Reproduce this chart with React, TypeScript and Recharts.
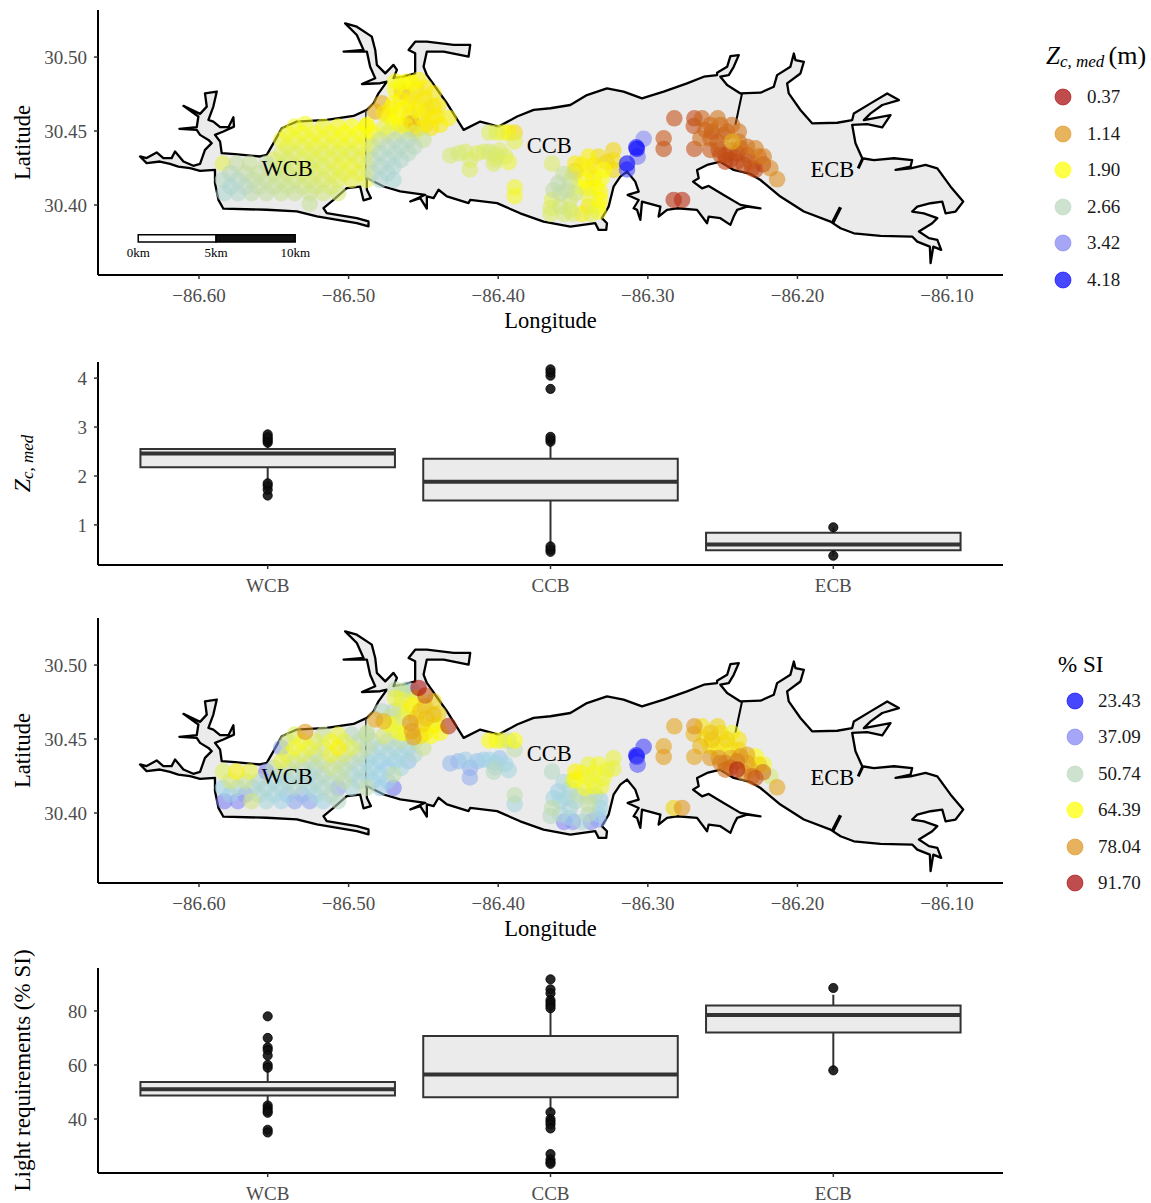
import React from "react";
import { ScatterChart, Scatter, XAxis, YAxis, ReferenceArea, ReferenceLine } from "recharts";

// Estuary outline (longitude, latitude), clockwise from the western shore
const shoreline: number[][] = [
  [-86.5893,30.4238],[-86.5993,30.4231],[-86.6060,30.4249],[-86.6138,30.4260],[-86.6194,30.4278],[-86.6261,30.4294],[-86.6350,30.4283],[-86.6394,30.4328],[-86.6350,30.4317],[-86.6283,30.4355],[-86.6238,30.4317],[-86.6183,30.4317],[-86.6160,30.4362],[-86.6104,30.4294],[-86.6038,30.4265],[-86.5993,30.4278],[-86.5960,30.4373],[-86.5915,30.4418],[-86.5937,30.4440],[-86.5993,30.4474],[-86.6015,30.4508],[-86.6131,30.4515],[-86.6015,30.4526],[-86.6004,30.4598],[-86.6104,30.4670],[-86.5993,30.4616],[-86.5948,30.4665],[-86.5960,30.4755],[-86.5881,30.4767],[-86.5904,30.4665],[-86.5937,30.4575],[-86.5904,30.4564],[-86.5859,30.4526],[-86.5803,30.4526],[-86.5770,30.4593],[-86.5766,30.4530],[-86.5837,30.4497],[-86.5893,30.4474],[-86.5859,30.4429],[-86.5848,30.4350],[-86.5759,30.4344],[-86.5592,30.4328],[-86.5547,30.4339],[-86.5502,30.4418],[-86.5447,30.4519],[-86.5346,30.4564],[-86.5146,30.4575],[-86.4967,30.4602],[-86.4878,30.4643],[-86.4833,30.4688],[-86.4800,30.4755],[-86.4744,30.4834],[-86.4789,30.4823],[-86.4911,30.4818],[-86.4822,30.4857],[-86.4856,30.4935],[-86.4878,30.5037],[-86.5034,30.5037],[-86.4900,30.5048],[-86.4945,30.5149],[-86.5023,30.5228],[-86.4945,30.5205],[-86.4845,30.5138],[-86.4822,30.5048],[-86.4811,30.4947],[-86.4755,30.4890],[-86.4700,30.4947],[-86.4677,30.4913],[-86.4700,30.4857],[-86.4633,30.4868],[-86.4555,30.4890],[-86.4555,30.5025],[-86.4599,30.5048],[-86.4555,30.5104],[-86.4477,30.5104],[-86.4298,30.5082],[-86.4187,30.5082],[-86.4198,30.5003],[-86.4365,30.5037],[-86.4477,30.5037],[-86.4499,30.4935],[-86.4477,30.4879],[-86.4343,30.4688],[-86.4231,30.4508],[-86.4120,30.4564],[-86.3997,30.4530],[-86.3874,30.4598],[-86.3763,30.4643],[-86.3651,30.4654],
  [-86.3518,30.4676],[-86.3407,30.4743],[-86.3273,30.4788],[-86.3162,30.4766],[-86.3039,30.4721],[-86.2894,30.4766],[-86.2738,30.4822],[-86.2626,30.4867],[-86.2537,30.4878],[-86.2537,30.4894],[-86.2470,30.4934],[-86.2448,30.5006],[-86.2392,30.5013],[-86.2426,30.4934],[-86.2459,30.4878],[-86.2515,30.4867],[-86.2470,30.4811],[-86.2381,30.4754],[-86.2247,30.4759],[-86.2158,30.4799],[-86.2136,30.4878],[-86.2047,30.4934],[-86.2024,30.5024],[-86.2013,30.4979],[-86.1957,30.4968],[-86.1980,30.4889],[-86.2069,30.4822],[-86.2058,30.4754],[-86.1980,30.4642],[-86.1902,30.4552],[-86.1734,30.4556],[-86.1634,30.4574],[-86.1623,30.4619],[-86.1511,30.4687],[-86.1400,30.4754],[-86.1322,30.4709],[-86.1433,30.4676],[-86.1511,30.4619],[-86.1556,30.4574],[-86.1378,30.4608],[-86.1433,30.4525],[-86.1534,30.4547],[-86.1634,30.4541],[-86.1612,30.4417],[-86.1567,30.4316],[-86.1489,30.4304],[-86.1355,30.4316],[-86.1233,30.4304],[-86.1244,30.4259],[-86.1344,30.4237],[-86.1244,30.4248],[-86.1144,30.4271],[-86.1065,30.4248],[-86.0976,30.4124],[-86.0892,30.4023],[-86.0943,30.3956],[-86.1010,30.3944],[-86.1032,30.4023],[-86.1110,30.4012],[-86.1199,30.3989],[-86.1233,30.3956],[-86.1155,30.3944],[-86.1065,30.3911],[-86.1099,30.3877],[-86.1188,30.3821],[-86.1121,30.3776],[-86.1065,30.3764],[-86.1039,30.3697],[-86.1092,30.3719],[-86.1110,30.3607],[-86.1115,30.3719],[-86.1199,30.3753],[-86.1233,30.3787],[-86.1445,30.3791],[-86.1623,30.3809],[-86.1712,30.3843],[-86.1779,30.3888],[-86.1957,30.3956],[-86.2114,30.4057],[-86.2247,30.4169],[-86.2314,30.4210],[-86.2426,30.4237],[-86.2515,30.4293],[-86.2604,30.4271],[-86.2671,30.4237],[-86.2660,30.4181],[-86.2698,30.4158],[-86.2638,30.4113],[-86.2593,30.4129],[-86.2493,30.4068],[-86.2381,30.4001],[-86.2247,30.3978],[-86.2337,30.3989],[-86.2403,30.3967],[-86.2426,30.3922],[-86.2448,30.3866],[-86.2515,30.3911],[-86.2593,30.3922],[-86.2604,30.3877],[-86.2671,30.3967],[-86.2805,30.3978],[-86.2872,30.3967],[-86.2928,30.3922],[-86.2916,30.3989],[-86.3039,30.4023],[-86.3050,30.3899],[-86.3072,30.3967],[-86.3095,30.3978],[-86.3061,30.4034],[-86.3135,30.4068],[-86.3061,30.4091],[-86.3084,30.4158],[-86.3139,30.4226],[-86.3184,30.4192],[-86.3229,30.4124],[-86.3262,30.3989],[-86.3307,30.3911],[-86.3273,30.3877],[-86.3278,30.3832],[-86.3329,30.3832],[-86.3351,30.3877],[-86.3518,30.3854],[-86.3697,30.3888],[-86.3853,30.3944],
  [-86.4008,30.4013],[-86.4187,30.4035],[-86.4198,30.4013],[-86.4343,30.4058],[-86.4399,30.4103],[-86.4432,30.4047],[-86.4477,30.4058],[-86.4477,30.3975],[-86.4521,30.4047],[-86.4588,30.4024],[-86.4488,30.4069],[-86.4655,30.4092],[-86.4766,30.4125],[-86.4878,30.4182],[-86.4878,30.4103],[-86.4851,30.4047],[-86.4900,30.4031],[-86.4923,30.4125],[-86.5012,30.4114],[-86.5101,30.4035],[-86.5168,30.3979],[-86.5146,30.3945],[-86.4945,30.3912],[-86.4867,30.3889],[-86.4867,30.3855],[-86.4945,30.3878],[-86.5212,30.3923],[-86.5346,30.3957],[-86.5547,30.3968],[-86.5837,30.3975],[-86.5870,30.4035],[-86.5893,30.4148],
];

const dividers: { pts: number[][]; w: number; c: string }[] = [
  { pts: [[-86.4885,30.4640],[-86.4885,30.4170]], w: 1.5, c: "#333" },
  { pts: [[-86.2370,30.4755],[-86.2415,30.4541]], w: 2, c: "#000" },
  { pts: [[-86.1712,30.3985],[-86.1764,30.3881]], w: 3.5, c: "#000" },
  { pts: [[-86.1563,30.4316],[-86.1594,30.4248]], w: 3, c: "#000" },
];

// Sampling stations: [longitude, latitude, Zc,med (m), % SI]; null = not seen on that map
type St = [number, number, number | null, number | null];
const westStations: St[] = [
  [-86.583,30.408,2.8,36],[-86.574,30.408,2.75,37],[-86.565,30.408,2.6,55],[-86.555,30.408,2.55,47],[-86.545,30.408,2.5,45],[-86.536,30.408,2.5,40],[-86.526,30.408,2.45,40],[-86.517,30.408,2.4,45],[-86.507,30.408,2.35,50],
  [-86.526,30.401,2.5,null],
  [-86.584,30.417,2.7,45],[-86.574,30.417,2.7,48],[-86.564,30.417,2.55,48],[-86.555,30.417,2.5,47],[-86.545,30.417,2.45,47],[-86.536,30.417,2.4,49],[-86.526,30.417,2.35,47],[-86.517,30.417,2.3,49],[-86.507,30.417,2.2,40],[-86.498,30.417,2.15,47],[-86.488,30.417,2.15,52],[-86.479,30.417,2.8,44],[-86.470,30.417,2.85,36],
  [-86.584,30.428,2.2,58],[-86.575,30.428,2.55,66],[-86.566,30.428,2.5,60],[-86.555,30.428,2.55,36],[-86.545,30.426,2.35,48],[-86.536,30.426,2.35,48],[-86.526,30.426,2.3,47],[-86.517,30.426,2.25,50],[-86.507,30.426,2.15,52],[-86.498,30.426,2.1,46],[-86.488,30.426,2.2,46],[-86.479,30.426,2.75,45],[-86.470,30.426,2.8,52],
  [-86.545,30.435,2.25,60],[-86.536,30.435,2.25,55],[-86.526,30.435,2.2,52],[-86.517,30.435,2.2,53],[-86.507,30.435,2.2,53],[-86.498,30.435,2.2,50],[-86.488,30.435,2.15,46],[-86.479,30.435,2.7,44],[-86.469,30.435,2.75,44],[-86.460,30.435,2.7,43],
  [-86.545,30.444,2.05,40],[-86.536,30.444,2.05,62],[-86.526,30.444,2.05,60],[-86.517,30.444,2.05,56],[-86.507,30.444,2.0,66],[-86.498,30.444,2.0,58],[-86.488,30.444,2.0,52],[-86.479,30.444,2.5,47],[-86.469,30.444,2.65,47],[-86.460,30.444,2.7,45],[-86.450,30.444,2.5,54],
  [-86.536,30.453,2.0,58],[-86.529,30.4548,2.0,78],[-86.517,30.453,2.0,54],[-86.507,30.453,1.95,60],[-86.498,30.453,1.9,50],[-86.488,30.453,1.8,48],
];
const westInfill: St[] = [
  [-86.579,30.4125,2.8,44],[-86.569,30.4125,2.65,40],[-86.560,30.4125,2.55,48],[-86.550,30.4125,2.5,46],[-86.541,30.4125,2.45,43],[-86.531,30.4125,2.4,42],[-86.522,30.4125,2.35,46],[-86.512,30.4125,2.3,50],
  [-86.579,30.4215,2.65,56],[-86.569,30.4215,2.55,54],[-86.560,30.4215,2.5,48],[-86.550,30.4215,2.4,47],[-86.541,30.4215,2.35,47],[-86.531,30.4215,2.3,48],[-86.522,30.4215,2.25,48],[-86.512,30.4215,2.2,50],[-86.503,30.4215,2.15,52],[-86.493,30.4215,2.15,48],[-86.484,30.4215,2.65,44],[-86.474,30.4215,2.8,44],
  [-86.550,30.4305,2.3,52],[-86.541,30.4305,2.3,52],[-86.531,30.4305,2.25,50],[-86.522,30.4305,2.2,50],[-86.512,30.4305,2.15,54],[-86.503,30.4305,2.1,52],[-86.493,30.4305,2.15,48],[-86.484,30.4305,2.6,45],[-86.474,30.4305,2.75,44],[-86.465,30.4305,2.75,46],
  [-86.541,30.4395,2.15,58],[-86.531,30.4395,2.15,58],[-86.522,30.4395,2.1,54],[-86.512,30.4395,2.1,60],[-86.503,30.4395,2.05,56],[-86.493,30.4395,2.05,52],[-86.484,30.4395,2.4,46],[-86.474,30.4395,2.65,46],[-86.465,30.4395,2.7,46],[-86.456,30.4395,2.65,48],
  [-86.541,30.4485,2.0,55],[-86.531,30.4485,2.0,62],[-86.522,30.4485,2.0,58],[-86.512,30.4485,2.0,62],[-86.503,30.4485,1.95,58],[-86.493,30.4485,1.9,52],[-86.484,30.4485,1.9,50],[-86.474,30.4485,2.2,50],[-86.465,30.4485,2.2,52],[-86.456,30.4485,2.2,52],
];
const northeastStations: St[] = [
  [-86.4689,30.4834,1.95,52],[-86.4532,30.4845,1.8,91.7],[-86.4610,30.4834,1.8,46],[-86.4488,30.4794,1.75,84],[-86.4689,30.4778,1.85,60],[-86.4644,30.4767,1.2,60],[-86.4544,30.4778,1.7,64],[-86.4432,30.4755,1.75,70],
  [-86.4778,30.4688,1.3,50],[-86.4700,30.4688,1.85,50],[-86.4599,30.4688,1.7,62],[-86.4521,30.4688,1.75,72],[-86.4432,30.4665,1.65,73],[-86.4823,30.4632,1.3,76],[-86.4766,30.4620,1.7,74],[-86.4677,30.4609,1.85,58],[-86.4588,30.4609,1.6,78],[-86.4510,30.4598,1.75,70],[-86.4410,30.4598,1.75,62],[-86.4332,30.4587,1.8,88],
  [-86.4577,30.4553,0.9,76],[-86.4655,30.4542,1.7,62],[-86.4488,30.4542,1.7,66],[-86.4388,30.4542,1.75,65],[-86.4566,30.4512,1.2,77],[-86.4766,30.4519,2.1,56],[-86.4878,30.4542,1.9,54],
  [-86.4645,30.4825,1.9,54],[-86.4575,30.4825,1.85,47],[-86.4650,30.4715,1.8,56],[-86.4580,30.4730,1.75,66],[-86.4490,30.4720,1.7,72],[-86.4480,30.4640,1.7,72],[-86.4550,30.4640,1.8,70],[-86.4630,30.4650,1.85,56],[-86.4720,30.4650,1.75,54],[-86.4400,30.4670,1.75,70],[-86.4440,30.4590,1.75,66],[-86.4450,30.4520,1.7,64],[-86.4520,30.4520,1.75,68],[-86.4620,30.4540,1.8,62],[-86.4700,30.4560,1.9,58],[-86.4730,30.4600,1.8,62],
];
const centralStations: St[] = [
  [-86.432,30.4335,2.35,42],[-86.422,30.436,2.3,44],[-86.419,30.424,2.3,41],[-86.414,30.435,2.25,43],[-86.406,30.436,2.35,45],[-86.403,30.428,2.3,50],[-86.399,30.437,2.3,43],[-86.393,30.429,2.1,46],[-86.389,30.412,2.05,52],[-86.389,30.406,2.0,46],[-86.406,30.449,2.25,64],[-86.401,30.449,2.2,62],[-86.393,30.449,1.75,50],[-86.389,30.449,1.65,64],[-86.389,30.443,2.2,52],
  [-86.4265,30.435,2.35,42],[-86.4097,30.436,2.3,44],[-86.402,30.434,2.3,45],[-86.3953,30.433,2.25,45],[-86.4187,30.4305,2.3,41],[-86.402,30.431,2.3,48],[-86.397,30.449,2.0,60],
  [-86.364,30.428,2.3,50],[-86.3485,30.428,1.75,66],[-86.3485,30.4226,1.3,64],[-86.3396,30.4327,1.8,60],[-86.333,30.4327,1.65,62],[-86.3273,30.429,1.55,60],[-86.323,30.437,1.6,60],[-86.323,30.430,1.65,60],[-86.3396,30.4237,1.8,60],[-86.3295,30.4237,1.85,61],[-86.342,30.417,1.85,62],[-86.331,30.418,1.9,61],[-86.335,30.412,1.85,50],
  [-86.3563,30.421,2.5,47],[-86.360,30.4147,2.6,44],[-86.352,30.416,2.5,47],[-86.3585,30.408,2.55,45],[-86.3485,30.408,2.4,48],[-86.3396,30.4057,2.1,53],[-86.3318,30.409,1.85,45],[-86.364,30.4034,2.2,52],[-86.344,30.394,1.8,47],[-86.333,30.3956,2.0,40],[-86.365,30.394,2.3,null],[-86.356,30.394,2.35,37],[-86.350,30.394,2.3,38],[-86.338,30.394,2.2,38],
  [-86.344,30.427,1.75,62],[-86.336,30.427,1.7,62],[-86.323,30.4237,1.6,null],[-86.336,30.418,1.7,61],[-86.3463,30.4125,1.9,52],[-86.3396,30.4113,1.8,52],[-86.3318,30.4034,1.85,46],[-86.3396,30.399,1.7,50],[-86.333,30.399,1.85,44],[-86.352,30.4034,2.35,47],[-86.3585,30.399,2.4,47],[-86.365,30.398,2.3,50],[-86.352,30.3967,2.3,45],[-86.363,30.410,2.55,46],[-86.354,30.410,2.55,46],[-86.350,30.4215,2.2,58],
  [-86.3139,30.428,4.18,null],[-86.3139,30.424,3.78,null],[-86.3073,30.438,4.15,23.43],[-86.3077,30.439,4.05,23.6],[-86.3068,30.4327,3.5,32],[-86.3028,30.4447,3.4,30],
];
const eastStations: St[] = [
  [-86.2823,30.4586,0.75,76],[-86.2894,30.4451,0.8,76],[-86.2894,30.4379,0.75,77],[-86.2689,30.4586,0.7,78],[-86.2638,30.4586,0.85,68],[-86.2693,30.4534,0.75,74],[-86.2533,30.4586,0.95,70],[-86.2582,30.4541,0.9,72],[-86.2571,30.4496,0.75,72],[-86.2437,30.4541,0.9,62],[-86.2392,30.4496,0.95,68],[-86.2470,30.4496,0.85,70],[-86.2649,30.4451,0.9,74],[-86.2582,30.4451,0.85,66],[-86.2437,30.4428,1.35,64],[-86.2689,30.4379,0.75,76],[-86.2582,30.4372,0.8,78],[-86.2526,30.4372,0.75,78],[-86.2482,30.4338,0.7,80],[-86.2403,30.4349,0.7,80],[-86.2403,30.4293,0.7,90],[-86.2337,30.4338,0.75,76],[-86.2281,30.4383,1.0,64],[-86.2225,30.4327,1.0,62],[-86.2230,30.4275,0.5,82],[-86.2281,30.4237,0.7,84],[-86.2181,30.4248,1.05,56],[-86.2136,30.4174,1.1,76],[-86.2827,30.4034,0.55,70],[-86.2771,30.4034,0.55,78],
  [-86.2515,30.4541,0.9,68],[-86.2493,30.4473,0.85,68],[-86.2537,30.4428,0.85,68],[-86.2615,30.4507,0.85,66],[-86.2392,30.4428,0.95,70],[-86.2448,30.4372,0.75,76],[-86.2482,30.4293,0.65,82],[-86.2448,30.4305,0.65,82],[-86.2359,30.4271,0.7,78],[-86.2314,30.4293,0.8,74],[-86.2337,30.4394,0.9,76],[-86.2258,30.4327,0.9,70],[-86.2381,30.4383,0.8,78],[-86.2303,30.4248,0.7,82],[-86.2515,30.4338,0.75,80],
];
const allStations: St[] = [...westStations, ...westInfill, ...northeastStations, ...centralStations, ...eastStations];

const basinNames = ["WCB", "CCB", "ECB"];
const basinLabels = [
  { lon: -86.5411, lat: 30.425, text: "WCB" },
  { lon: -86.3659, lat: 30.4399, text: "CCB" },
  { lon: -86.1766, lat: 30.4243, text: "ECB" },
];
const scaleLabels = [
  { lon: -86.6406, lat: 30.3682, text: "0km" },
  { lon: -86.5886, lat: 30.3682, text: "5km" },
  { lon: -86.5357, lat: 30.3682, text: "10km" },
];

const zcLegend = ["0.37", "1.14", "1.90", "2.66", "3.42", "4.18"];
const siLegend = ["23.43", "37.09", "50.74", "64.39", "78.04", "91.70"];

const lonTicks = [-86.6, -86.5, -86.4, -86.3, -86.2, -86.1];
const latTicks = [30.4, 30.45, 30.5];

// Box plots, in WCB / CCB / ECB order
const zcQ1 = [2.18, 1.5, 0.48];
const zcMedian = [2.46, 1.88, 0.6];
const zcQ3 = [2.55, 2.35, 0.84];
const zcLow = [1.9, 0.6, 0.37];
const zcHigh = [2.72, 2.72, 0.95];
const zcOutliers = [
  [2.68, 2.72, 2.76, 2.8, 2.85, 1.6, 1.72, 1.8, 1.85],
  [2.7, 2.75, 2.8, 3.78, 4.05, 4.12, 4.18, 0.45, 0.5, 0.56],
  [0.95, 0.37],
];
const siQ1 = [48.7, 48, 72];
const siMedian = [51, 56.5, 78.5];
const siQ3 = [53.7, 70.7, 82];
const siLow = [45, 43, 58];
const siHigh = [59, 81, 86];
const siOutliers = [
  [78, 70, 66.5, 65.5, 63.5, 60, 59, 45, 44, 43, 42.3, 36, 35],
  [91.7, 88, 86.5, 84, 83, 82, 81, 42.5, 40, 39, 38, 36.5, 27, 25, 24, 23.4],
  [88.5, 58],
];

const rampStops: [number, number, number, number][] = [
  [0, 168, 8, 8],
  [0.2, 222, 148, 30],
  [0.4, 255, 255, 0],
  [0.6, 186, 216, 190],
  [0.69, 160, 212, 232],
  [0.8, 132, 132, 244],
  [1, 0, 0, 255],
];
function ramp(t: number) {
  const u = Math.max(0, Math.min(1, t));
  for (let i = 1; i < rampStops.length; i++) {
    const a = rampStops[i - 1], b = rampStops[i];
    if (u <= b[0]) {
      const f = (u - a[0]) / (b[0] - a[0]);
      return `rgb(${Math.round(a[1] + (b[1] - a[1]) * f)},${Math.round(a[2] + (b[2] - a[2]) * f)},${Math.round(a[3] + (b[3] - a[3]) * f)})`;
    }
  }
  return "rgb(0,0,255)";
}
const zcT = (v: number) => (v - 0.37) / 3.81;
const siT = (v: number) => (91.7 - v) / 68.27;

const SERIF = "'Liberation Serif', 'Times New Roman', serif";
const tickStyle = { fontSize: 19, fill: "#4d4d4d", fontFamily: SERIF };
const axisLine = { stroke: "#000", strokeWidth: 2 };
const tickLine = { stroke: "#333", strokeWidth: 1.5 };
const TITLE = 22.5;

const xTitle = { value: "Longitude", position: "insideBottom" as const, offset: 2, fontSize: TITLE, fill: "#000", fontFamily: SERIF };

function yTitle(content: React.ReactNode, size: number = TITLE) {
  return (p: any) => {
    const vb = p.viewBox || {};
    const cy = (vb.y ?? 0) + (vb.height ?? 0) / 2;
    return (
      <text x={22} y={cy} transform={`rotate(-90 22 ${cy})`} textAnchor="middle" dominantBaseline="central" fontSize={size} fill="#000" fontFamily={SERIF}>
        {content}
      </text>
    );
  };
}

const hiddenPoint = () => <g />;
const outlinePath = (p: any) => {
  const d = p.points.map((q: any, i: number) => `${i ? "L" : "M"}${q.x},${q.y}`).join("") + "Z";
  return <path d={d} fill="#ebebeb" stroke="#000" strokeWidth={2.3} strokeLinejoin="round" />;
};
const segPath = (w: number, c: string) => (p: any) => {
  const d = p.points.map((q: any, i: number) => `${i ? "L" : "M"}${q.x},${q.y}`).join("");
  return <path d={d} fill="none" stroke={c} strokeWidth={w} />;
};
const dot = (p: any) => <circle cx={p.cx} cy={p.cy} r={8.3} fill={p.payload.color} fillOpacity={0.58} />;
const textMark = (size: number) => (p: any) => (
  <text x={p.cx} y={p.cy} textAnchor="middle" dominantBaseline="central" fontSize={size} fill="#000" fontFamily={SERIF}>
    {p.payload.text}
  </text>
);

function MapPanel({ top, marks, scaleBar }: { top: number; marks: any[]; scaleBar: boolean }) {
  return (
    <div style={{ position: "absolute", left: 0, top }}>
      <ScatterChart width={1151} height={340} margin={{ top: 10, right: 148, bottom: 10, left: 0 }}>
        <XAxis type="number" dataKey="lon" domain={[-86.6675, -86.0626]} ticks={lonTicks} allowDataOverflow height={55} interval={0}
          tickFormatter={(v: number) => "\u2212" + Math.abs(v).toFixed(2)} tick={tickStyle} axisLine={axisLine} tickLine={tickLine} tickSize={4} tickMargin={10} label={xTitle} />
        <YAxis type="number" dataKey="lat" domain={[30.3527, 30.5318]} ticks={latTicks} allowDataOverflow width={98} interval={0}
          tickFormatter={(v: number) => v.toFixed(2)} tick={tickStyle} axisLine={axisLine} tickLine={tickLine} tickSize={4} tickMargin={7} label={yTitle("Latitude")} />
        <Scatter data={shoreline.map(([lon, lat]) => ({ lon, lat }))} shape={hiddenPoint} line={outlinePath} isAnimationActive={false} />
        {dividers.map((s, i) => (
          <Scatter key={i} data={s.pts.map(([lon, lat]) => ({ lon, lat }))} shape={hiddenPoint} line={segPath(s.w, s.c)} isAnimationActive={false} />
        ))}
        <Scatter data={marks} shape={dot} isAnimationActive={false} />
        <Scatter data={basinLabels} shape={textMark(22.5)} isAnimationActive={false} />
        {scaleBar && <Scatter data={scaleLabels} shape={textMark(13)} isAnimationActive={false} />}
        {scaleBar && <ReferenceArea x1={-86.6406} x2={-86.5886} y1={30.375} y2={30.3799} fill="#fff" fillOpacity={1} stroke="#000" strokeWidth={1.5} />}
        {scaleBar && <ReferenceArea x1={-86.5886} x2={-86.5357} y1={30.375} y2={30.3799} fill="#111" fillOpacity={1} stroke="#000" strokeWidth={1.5} />}
      </ScatterChart>
    </div>
  );
}

const outlierDot = (p: any) => <circle cx={p.cx} cy={p.cy} r={4.6} fill="#111" fillOpacity={0.9} stroke="#000" strokeWidth={0.8} />;

function BoxPanel(props: { top: number; height: number; plotTop: number; plotBottom: number; domain: [number, number]; ticks: number[]; q1: number[]; med: number[]; q3: number[]; low: number[]; high: number[]; out: number[][]; title: any }) {
  const { top, height, plotTop, plotBottom, domain, ticks, q1, med, q3, low, high, out, title } = props;
  const pts = out.flatMap((vals, i) => vals.map((y) => ({ x: i + 1, y })));
  return (
    <div style={{ position: "absolute", left: 0, top }}>
      <ScatterChart width={1151} height={height} margin={{ top: plotTop, right: 148, bottom: plotBottom, left: 0 }}>
        <XAxis type="number" dataKey="x" domain={[0.4, 3.6]} ticks={[1, 2, 3]} allowDataOverflow height={32} interval={0}
          tickFormatter={(v: number) => basinNames[v - 1]} tick={tickStyle} axisLine={axisLine} tickLine={tickLine} tickSize={4} tickMargin={10} />
        <YAxis type="number" dataKey="y" domain={domain} ticks={ticks} allowDataOverflow width={98} interval={0}
          tick={tickStyle} axisLine={axisLine} tickLine={tickLine} tickSize={4} tickMargin={7} label={title} />
        {basinNames.map((n, i) => (
          <ReferenceLine key={n + "wu"} segment={[{ x: i + 1, y: q3[i] }, { x: i + 1, y: high[i] }]} stroke="#333" strokeWidth={2} />
        ))}
        {basinNames.map((n, i) => (
          <ReferenceLine key={n + "wl"} segment={[{ x: i + 1, y: low[i] }, { x: i + 1, y: q1[i] }]} stroke="#333" strokeWidth={2} />
        ))}
        {basinNames.map((n, i) => (
          <ReferenceArea key={n + "b"} x1={i + 0.55} x2={i + 1.45} y1={q1[i]} y2={q3[i]} fill="#ebebeb" fillOpacity={1} stroke="#333" strokeWidth={2} />
        ))}
        {basinNames.map((n, i) => (
          <ReferenceLine key={n + "m"} segment={[{ x: i + 0.55, y: med[i] }, { x: i + 1.45, y: med[i] }]} stroke="#333" strokeWidth={4} />
        ))}
        <Scatter data={pts} shape={outlierDot} isAnimationActive={false} />
      </ScatterChart>
    </div>
  );
}

function LegendBlock({ circleX, textX, labels, toT, title, titleX, titleY, ys }: any) {
  return (
    <div style={{ position: "absolute", left: 0, top: 0, fontFamily: SERIF }}>
      <div style={{ position: "absolute", left: titleX, top: titleY, whiteSpace: "nowrap", color: "#000", fontSize: 23, lineHeight: "26px" }}>{title}</div>
      {labels.map((l: string, i: number) => (
        <React.Fragment key={l}>
          <svg width={20} height={20} style={{ position: "absolute", left: circleX - 10, top: ys[i] - 10 }}>
            <circle cx={10} cy={10} r={8} fill={ramp(toT(parseFloat(l)))} fillOpacity={0.72} stroke={ramp(toT(parseFloat(l)))} strokeOpacity={0.6} />
          </svg>
          <div style={{ position: "absolute", left: textX, top: ys[i] - 11, fontSize: 19, lineHeight: "22px", color: "#1a1a1a" }}>{l}</div>
        </React.Fragment>
      ))}
    </div>
  );
}

const zcMarks = allStations.filter((s) => s[2] !== null).map((s) => ({ lon: s[0], lat: s[1], v: s[2] as number, color: ramp(zcT(s[2] as number)) })).sort((a, b) => a.v - b.v);
const siMarks = allStations.filter((s) => s[3] !== null).map((s) => ({ lon: s[0], lat: s[1], v: s[3] as number, color: ramp(siT(s[3] as number)) })).sort((a, b) => a.v - b.v);

const zcTitle = (
  <>
    <tspan fontStyle="italic" fontSize={24}>Z</tspan>
    <tspan fontStyle="italic" fontSize={17} dy={5}>c, med</tspan>
  </>
);

export default function App() {
  return (
    <div style={{ position: "absolute", left: 0, top: 0, width: 1151, height: 1203, background: "#fff", fontFamily: SERIF, overflow: "hidden" }}>
      <MapPanel top={0} marks={zcMarks} scaleBar />
      <BoxPanel top={352} height={253} plotTop={10} plotBottom={8} domain={[0.18, 4.33]} ticks={[1, 2, 3, 4]} q1={zcQ1} med={zcMedian} q3={zcQ3} low={zcLow} high={zcHigh} out={zcOutliers} title={yTitle(zcTitle)} />
      <MapPanel top={608} marks={siMarks} scaleBar={false} />
      <BoxPanel top={940} height={265} plotTop={28} plotBottom={0} domain={[20, 95.9]} ticks={[40, 60, 80]} q1={siQ1} med={siMedian} q3={siQ3} low={siLow} high={siHigh} out={siOutliers} title={yTitle("Light requirements (% SI)", 23)} />
      <LegendBlock circleX={1063} textX={1087} labels={zcLegend} toT={zcT} titleX={1046} titleY={43} ys={[97, 134, 170, 207, 243, 280]}
        title={<span style={{ fontSize: 26 }}><i style={{ fontSize: 25 }}>Z</i><i style={{ fontSize: 17, position: "relative", top: 3 }}>c, med </i>(m)</span>} />
      <LegendBlock circleX={1075} textX={1098} labels={siLegend} toT={siT} titleX={1058} titleY={652} ys={[701, 737, 774, 810, 847, 883]} title="% SI" />
    </div>
  );
}
